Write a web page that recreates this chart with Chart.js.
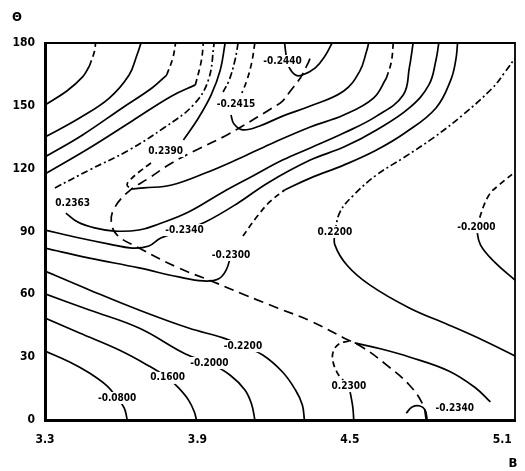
<!DOCTYPE html>
<html>
<head>
<meta charset="utf-8">
<script src="https://cdn.jsdelivr.net/npm/chart.js@4.4.1/dist/chart.umd.min.js"></script>
<style>
  body { margin: 0; background: #fff; }
  #wrap { width: 525px; height: 471px; }
</style>
</head>
<body>
<div id="wrap"><canvas id="chart"></canvas></div>
<script>
const xTicks = [3.3, 3.9, 4.5, 5.1];
const yTicks = [0, 30, 60, 90, 120, 150, 180];

// contour pieces, [B, theta]
const upperA = [[3.300,150.4],[3.386,157.1],[3.448,163.8],[3.475,169.0]];
const upperAtop = [[3.475,169.0],[3.495,176.2],[3.499,180]];
const upperB = [[3.300,135.1],[3.436,144.2],[3.553,153.7],[3.631,164.7],[3.662,174.3],[3.678,180]];
const upperC = [[3.300,125.6],[3.448,136.1],[3.604,149.0],[3.721,158.5],[3.779,164.7]];
const upperCtop = [[3.779,164.7],[3.803,172.8],[3.814,180]];
const upperD = [[3.300,117.5],[3.475,129.9],[3.643,142.8],[3.799,154.7],[3.892,160.0]];
const upperDtop = [[3.892,160.0],[3.916,171.9],[3.923,180]];
const upperE = [[3.339,110.8],[3.475,119.4],[3.631,128.9],[3.767,139.4],[3.884,150.4],[3.943,162.3],[3.966,180]];
const upperG = [[4.060,180],[4.048,171.9],[4.025,162.3],[4.001,156.6]];

const ridge = [[4.800,0.5],[4.788,7.2],[4.734,16.7],[4.644,26.3],[4.554,34.4],[4.476,39.2],[4.344,47.3],
  [4.215,53.5],[4.087,59.7],[3.954,66.4],[3.826,72.6],[3.670,82.1],[3.584,88.3],[3.561,94.5],[3.573,101.2],
  [3.631,109.3],[3.709,115.5],[3.799,122.7],[3.904,129.4],[4.009,135.6],[4.071,139.9],[4.188,148.5],
  [4.235,152.3],[4.266,157.1],[4.305,163.3],[4.332,169.5],[4.344,172.8]];

const c2440 = [[4.243,180],[4.251,172.8],[4.262,168.1],[4.286,164.7],[4.313,164.7],[4.364,168.1],[4.402,173.8],[4.430,180]];
const c2415Up = [[4.126,180],[4.114,170.9],[4.095,162.3],[4.075,156.1]];
const c2415Low = [[4.032,145.6],[4.044,141.3],[4.079,138.5],[4.145,140.4],[4.235,145.1],[4.344,149.9],[4.476,157.1],[4.539,166.6],[4.566,176.2],[4.574,180]];
const c2390Up = [[3.845,133.7],[3.904,144.2],[3.954,155.2],[3.990,167.1],[4.009,180]];
const c2390Hook = [[3.717,122.7],[3.670,118.4],[3.635,114.6],[3.623,112.2],[3.639,110.3]];
const c2390Low = [[3.639,110.3],[3.690,110.8],[3.799,112.2],[3.931,117.9],[4.060,124.6],[4.188,131.8],[4.344,139.9],[4.476,145.6],[4.593,153.7],[4.644,163.3]];
const c2390Top = [[4.644,163.3],[4.663,170.9],[4.671,180]];
const c2363 = [[3.382,98.8],[3.429,94.5],[3.495,91.7],[3.573,90.2],[3.670,90.7],[3.748,93.6],[3.865,99.3],[4.001,108.9],[4.118,116.5],[4.235,124.1],[4.344,129.9],[4.476,137.0],[4.605,145.1],[4.710,155.2],[4.734,168.1],[4.749,180]];
const c2340 = [[3.300,90.7],[3.436,86.9],[3.553,84.0],[3.643,82.1],[3.709,83.1],[3.756,86.9],[3.849,90.7],[3.931,94.5],[4.060,103.6],[4.177,113.2],[4.344,124.1],[4.476,130.3],[4.605,138.5],[4.734,149.0],[4.811,160.0],[4.839,171.9],[4.850,180]];
const c2300Low = [[3.300,82.1],[3.475,77.3],[3.670,72.6],[3.826,68.3],[3.923,66.4],[3.982,67.3],[4.013,71.6],[4.032,78.8]];
const c2300Dash = [[4.079,87.8],[4.130,96.4],[4.184,104.1],[4.243,109.8]];
const c2300Up = [[4.243,109.8],[4.344,115.5],[4.476,121.7],[4.605,128.9],[4.722,137.5],[4.839,149.0],[4.897,162.3],[4.917,171.9],[4.924,180]];
const c2200 = [[3.300,71.1],[3.475,62.1],[3.670,52.5],[3.865,43.9],[4.001,39.2],[4.079,35.3],[4.157,31.0],[4.235,22.9],[4.286,14.3],[4.313,7.2],[4.321,0]];
const c2000 = [[3.300,60.2],[3.475,52.5],[3.670,43.9],[3.853,31.5],[3.947,27.2],[4.028,21.5],[4.087,14.3],[4.114,7.2],[4.126,0]];
const c1600 = [[3.300,48.7],[3.436,41.5],[3.592,33.4],[3.709,25.8],[3.783,20.1],[3.826,15.3],[3.865,9.5],[3.888,3.8],[3.896,0]];
const c0800 = [[3.300,32.9],[3.397,27.7],[3.475,22.4],[3.545,16.2],[3.584,10.5],[3.612,5.7],[3.623,0.5]];
const c2200Up = [[4.441,89.8],[4.461,99.3],[4.515,107.4],[4.605,117.0],[4.710,125.1],[4.827,134.6],[4.944,145.6],[5.061,158.5],[5.111,166.2],[5.150,172.8]];
const c2200Low = [[4.441,89.8],[4.441,83.6],[4.488,74.0],[4.578,64.5],[4.734,53.5],[4.889,45.4],[5.022,38.2],[5.150,30.6]];
const c2000RUp = [[4.998,92.1],[5.045,106.9],[5.092,112.7],[5.150,118.4]];
const c2000RLow = [[4.998,92.1],[5.014,83.6],[5.073,75.0],[5.150,66.8]];
const brSolid = [[4.519,36.8],[4.624,33.9],[4.734,30.1],[4.889,23.4],[4.995,15.3],[5.053,8.6]];
const c2300Loop = [[4.496,37.7],[4.457,36.3],[4.434,32.5],[4.434,27.7],[4.449,22.9],[4.465,20.1],[4.496,16.2]];
const c2300Stem = [[4.496,16.2],[4.504,11.5],[4.512,5.7],[4.515,0.5]];
const c2340Arc = [[4.722,3.3],[4.745,6.2],[4.776,6.7],[4.796,4.8],[4.804,0.5]];

const labelText = ['-0.2440','-0.2415','0.2390','0.2363','-0.2340','-0.2300','0.2200','-0.2000','-0.2200','-0.2000','0.1600','-0.0800','0.2300','-0.2340'];
const labelX = [4.235,4.052,3.775,3.409,3.849,4.032,4.441,4.998,4.079,3.947,3.783,3.584,4.496,4.913];
const labelY = [171.4,150.9,128.4,103.6,90.7,78.8,89.8,92.1,35.3,27.2,20.1,10.5,16.2,5.7];

const SOLID = [], DASH = [6, 4], LONG = [10, 6], DOTDASH = [7, 3, 2, 3];

const pieces = [
  [upperA, SOLID], [upperAtop, DASH], [upperB, SOLID], [upperC, SOLID], [upperCtop, DASH],
  [upperD, SOLID], [upperDtop, DASH], [upperE, DOTDASH], [upperG, DOTDASH], [ridge, LONG],
  [c2440, SOLID], [c2415Up, DASH], [c2415Low, SOLID], [c2390Up, SOLID], [c2390Hook, DASH],
  [c2390Low, SOLID], [c2390Top, DASH], [c2363, SOLID], [c2340, SOLID], [c2300Low, SOLID],
  [c2300Dash, DASH], [c2300Up, SOLID], [c2200, SOLID], [c2000, SOLID], [c1600, SOLID],
  [c0800, SOLID], [c2200Up, DOTDASH], [c2200Low, SOLID], [c2000RUp, DASH], [c2000RLow, SOLID],
  [brSolid, SOLID], [c2300Loop, DASH], [c2300Stem, SOLID], [c2340Arc, SOLID]
];

const tickFont = { family: 'DejaVu Sans Condensed', weight: 'bold', size: 12 };

const deco = {
  id: 'deco',
  afterDatasetsDraw(chart) {
    const { ctx, chartArea: a, scales: { x, y } } = chart;
    ctx.save();
    ctx.strokeStyle = '#000';
    ctx.lineWidth = 1.8;
    ctx.setLineDash([]);
    ctx.beginPath();
    ctx.moveTo(a.left, a.top);
    ctx.lineTo(a.right, a.top);
    ctx.lineTo(a.right, a.bottom);
    ctx.stroke();

    ctx.font = 'bold 10px "DejaVu Sans Condensed"';
    ctx.textAlign = 'center';
    ctx.textBaseline = 'middle';
    labelText.forEach((t, i) => {
      const px = x.getPixelForValue(labelX[i]);
      const py = y.getPixelForValue(labelY[i]);
      const w = ctx.measureText(t).width;
      ctx.fillStyle = '#fff';
      ctx.fillRect(px - w / 2 - 2, py - 6, w + 4, 12);
      ctx.fillStyle = '#000';
      ctx.fillText(t, px, py);
    });

    ctx.font = 'bold 13px "DejaVu Sans Condensed"';
    ctx.fillText('Θ', a.left - 28, a.top - 25);
    ctx.fillText('B', a.right - 2, a.bottom + 44);
    ctx.restore();
  }
};

new Chart(document.getElementById('chart'), {
  type: 'scatter',
  data: {
    datasets: pieces.map(([pts, dash]) => ({
      data: pts.map(p => ({ x: p[0], y: p[1] })),
      showLine: true,
      borderColor: '#000',
      borderWidth: 1.7,
      borderDash: dash,
      pointRadius: 0,
      tension: 0.4,
      fill: false
    }))
  },
  options: {
    responsive: true,
    maintainAspectRatio: false,
    animation: false,
    layout: { padding: { top: 43, right: 5, left: 0, bottom: 0 } },
    plugins: { legend: { display: false }, tooltip: { enabled: false } },
    scales: {
      x: {
        type: 'linear', min: 3.3, max: 5.15,
        afterBuildTicks: s => { s.ticks = xTicks.map(v => ({ value: v })); },
        afterFit: s => { s.height = 51; },
        grid: { display: false, drawTicks: false },
        border: { display: true, width: 3, color: '#000' },
        ticks: { color: '#000', font: tickFont, padding: 13, maxRotation: 0, autoSkip: false, callback: v => v.toFixed(1) }
      },
      y: {
        type: 'linear', min: 0, max: 180,
        afterBuildTicks: s => { s.ticks = yTicks.map(v => ({ value: v })); },
        afterFit: s => { s.width = 45; },
        grid: { display: false, drawTicks: false },
        border: { display: true, width: 3, color: '#000' },
        ticks: { color: '#000', font: tickFont, padding: 10, autoSkip: false }
      }
    }
  },
  plugins: [deco]
});
</script>
</body>
</html>
